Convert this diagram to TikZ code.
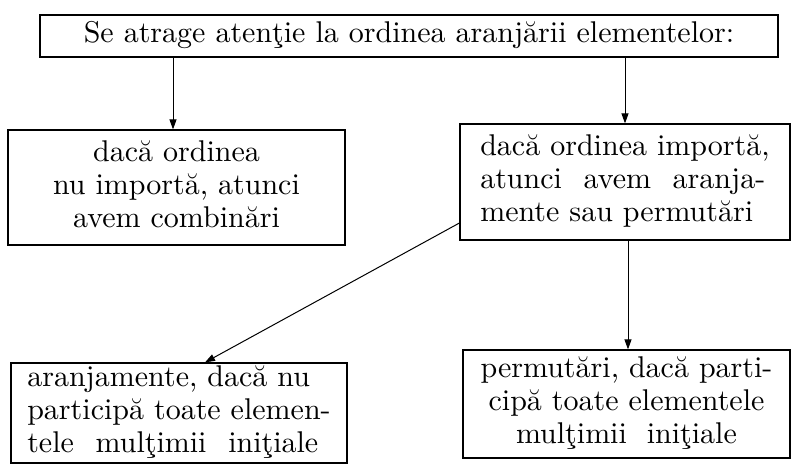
\documentclass[tikz,border=0pt]{standalone}
\usepackage{graphicx}
\usetikzlibrary{arrows.meta}
\newcommand{\boxtxt}[2]{\scalebox{3.0}{\renewcommand{\arraystretch}{0.92}\begin{tabular}{@{}#1@{}}#2\end{tabular}}}
\begin{document}
\begin{tikzpicture}[x=1pt,y=-1pt,
  boxnode/.style={draw, line width=1.2pt, inner sep=0pt, rectangle},
  arr/.style={line width=1pt, -{Triangle[length=10pt,width=7pt]}}]
\useasboundingbox (0,0) rectangle (793,471);
\node[boxnode, minimum width=738pt, minimum height=42pt] (top) at (409,36)
  {\boxtxt{c}{Se atrage atenţie la ordinea aranjării elementelor:}};
\node[boxnode, minimum width=337pt, minimum height=115pt] (lbox) at (176.5,187.5)
  {\boxtxt{c}{dacă ordinea\\ nu importă, atunci\\ avem combinări}};
\node[boxnode, minimum width=330pt, minimum height=116pt] (rbox) at (625,182)
  {\boxtxt{l}{dacă ordinea importă,\\ \makebox[95pt][s]{atunci avem aranja-}\\ mente sau permutări}};
\node[boxnode, minimum width=336pt, minimum height=100pt] (blbox) at (179,413)
  {\boxtxt{l}{aranjamente, dacă nu\\ participă toate elemen-\\ \makebox[97pt][s]{tele mulţimii iniţiale}}};
\node[boxnode, minimum width=327pt, minimum height=108pt] (brbox) at (626.5,404)
  {\boxtxt{c}{permutări, dacă parti-\\ cipă toate elementele\\ mulţimii\ \ iniţiale}};
\coordinate (xl) at (173,0);
\coordinate (xr) at (625,0);
\coordinate (xd) at (205,0);
\coordinate (yd) at (0,223);
\coordinate (xv) at (628,0);
\draw[arr] (top.south -| xl) -- (lbox.north -| xl);
\draw[arr] (top.south -| xr) -- (rbox.north -| xr);
\draw[arr] (rbox.west |- yd) -- (blbox.north -| xd);
\draw[arr] (rbox.south -| xv) -- (brbox.north -| xv);
\end{tikzpicture}
\end{document}
